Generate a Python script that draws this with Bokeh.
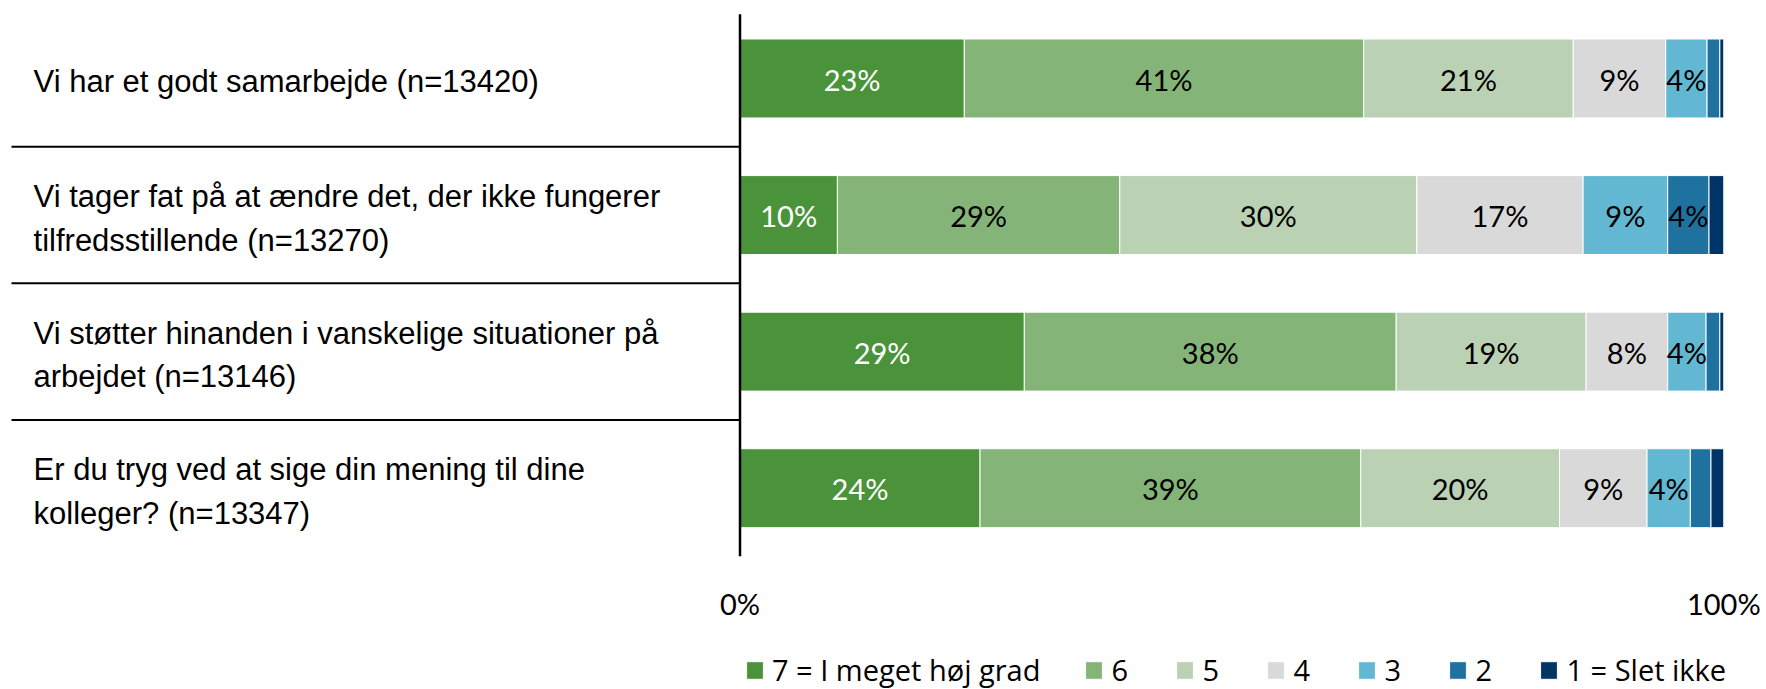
from bokeh.plotting import figure
from bokeh.layouts import column
from bokeh.models import (Range1d, FixedTicker, PrintfTickFormatter, ColumnDataSource,
                          Legend, LegendItem)
from bokeh.core.properties import value
from bokeh.embed import file_html
from bokeh.resources import INLINE

# ---------------- data ----------------
questions = [
    "Vi har et godt samarbejde (n=13420)",
    "Vi tager fat på at ændre det, der ikke fungerer\ntilfredsstillende (n=13270)",
    "Vi støtter hinanden i vanskelige situationer på\narbejdet (n=13146)",
    "Er du tryg ved at sige din mening til dine\nkolleger? (n=13347)",
]
levels = ["7 = I meget høj grad", "6", "5", "4", "3", "2", "1 = Slet ikke"]
v7 = [22.8, 9.9, 28.9, 24.4]
v6 = [40.6, 28.7, 37.8, 38.7]
v5 = [21.3, 30.2, 19.3, 20.2]
v4 = [9.4, 16.9, 8.3, 8.9]
v3 = [4.2, 8.6, 3.9, 4.4]
v2 = [1.3, 4.2, 1.4, 2.1]
v1 = [0.4, 1.5, 0.4, 1.3]
colors = ["#4A933B", "#84B477", "#BAD1B4", "#D9D9D9", "#62B8D3", "#1F72A0", "#003366"]
label_colors = ["white", "black", "black", "black", "black", "black", "black"]
x_ticks = [0, 100]

series = [v7, v6, v5, v4, v3, v2, v1]
keys = ["l7", "l6", "l5", "l4", "l3", "l2", "l1"]
ypos = list(range(len(questions)))

data = {"y": ypos, "q": questions}
for k, s in zip(keys, series):
    data[k] = s
source = ColumnDataSource(data)

# ---------------- main figure ----------------
p = figure(width=1766, height=627,
           x_range=Range1d(-75.17, 100.48), y_range=Range1d(3.5, -0.571),
           output_backend="svg", toolbar_location=None,
           min_border_left=0, min_border_right=38, min_border_top=0, min_border_bottom=71)
p.yaxis.visible = False
p.grid.visible = False
p.outline_line_color = None
p.background_fill_color = "white"

bars = p.hbar_stack(keys, y="y", height=0.578, color=colors, line_color="white", line_width=1,
                    source=source)

# segment value labels
lx, ly, lt, lc = [], [], [], []
for i in ypos:
    left = 0.0
    for s, col in zip(series, label_colors):
        v = s[i]
        if v >= 3.5:
            lx.append(left + v / 2)
            ly.append(i + 0.005)
            lt.append(f"{v:.0f}%")
            lc.append(col)
        left += v
p.text(x=lx, y=ly, text=lt, text_color=lc, text_align="center", text_baseline="middle",
       text_font=value("Lato"), text_font_size=value("29px"))

# category labels on the left
p.text(x=[-71.81] * len(ypos), y=[i + 0.025 for i in ypos], text=questions,
       text_align="left", text_baseline="middle",
       text_font=value("Liberation Sans"), text_font_size=value("31px"), text_color="black",
       text_line_height=1.24)

# separators between categories
bounds = [i + 0.5 for i in ypos[:-1]]
p.segment(x0=[-74.05] * len(bounds), x1=[0] * len(bounds), y0=bounds, y1=bounds,
          line_color="black", line_width=2)

# vertical axis line at 0
p.segment(x0=[0], x1=[0], y0=[-0.47], y1=[3.5], line_color="black", line_width=2.5)

# x axis
xa = p.xaxis[0]
xa.ticker = FixedTicker(ticks=x_ticks)
xa.formatter = PrintfTickFormatter(format="%d%%")
xa.axis_line_color = None
xa.major_tick_line_color = None
xa.minor_tick_line_color = None
xa.major_label_text_font = "Lato"
xa.major_label_text_font_size = "29px"
xa.major_label_text_color = "black"
xa.major_label_standoff = 23

# ---------------- legend strip ----------------
# the same stacked bars, kept outside this strip's visible y range; only the legend shows
pl = figure(width=1766, height=62, x_range=Range1d(0, 1), y_range=Range1d(10, 11),
            output_backend="svg", toolbar_location=None,
            min_border_left=0, min_border_right=0, min_border_top=0, min_border_bottom=0)
pl.axis.visible = False
pl.grid.visible = False
pl.outline_line_color = None
swatches = pl.hbar_stack(keys, y="y", height=0.578, color=colors, line_color="white",
                         line_width=1, source=source)
items = [LegendItem(label=lvl, renderers=[r]) for lvl, r in zip(levels, swatches)]
lg = Legend(items=items, orientation="horizontal", location=(744, 0),
            glyph_width=21, glyph_height=22, label_standoff=7, spacing=43,
            padding=0, margin=0, border_line_color=None, background_fill_alpha=0,
            label_text_font="Open Sans", label_text_font_size="29px", label_text_color="black")
pl.add_layout(lg, "center")

layout = column(p, pl, spacing=0)
open("out.html", "w").write(file_html(layout, INLINE))
